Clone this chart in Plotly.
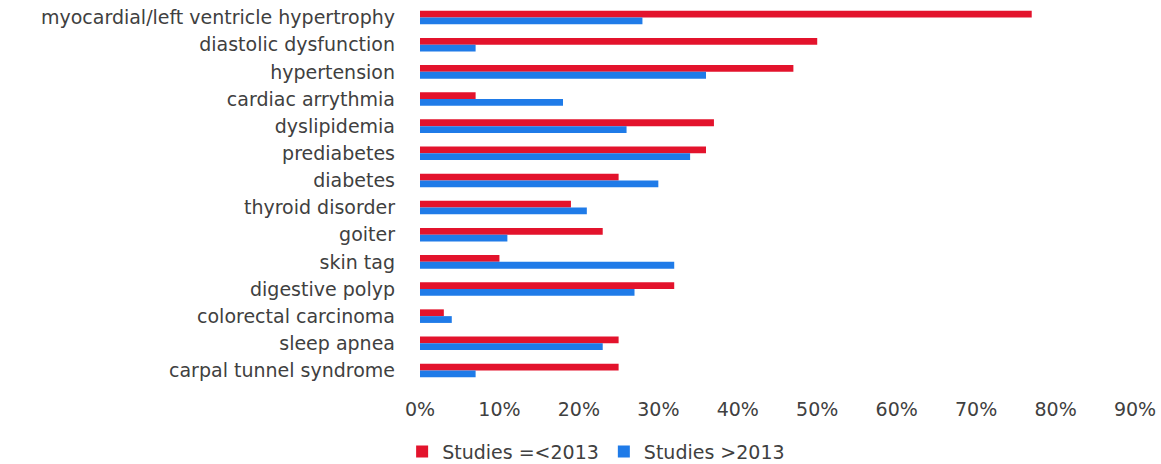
import plotly.graph_objects as go

# Comorbidities, listed top to bottom
conditions = [
    "myocardial/left ventricle hypertrophy",
    "diastolic dysfunction",
    "hypertension",
    "cardiac arrythmia",
    "dyslipidemia",
    "prediabetes",
    "diabetes",
    "thyroid disorder",
    "goiter",
    "skin tag",
    "digestive polyp",
    "colorectal carcinoma",
    "sleep apnea",
    "carpal tunnel syndrome",
]

# Prevalence (%) by study period
studies_to_2013 = [77, 50, 47, 7, 37, 36, 25, 19, 23, 10, 32, 3, 25, 25]
studies_after_2013 = [28, 7, 36, 18, 26, 34, 30, 21, 11, 32, 27, 4, 23, 7]

x_tick_values = [0, 10, 20, 30, 40, 50, 60, 70, 80, 90]
x_tick_labels = ["0%", "10%", "20%", "30%", "40%", "50%", "60%", "70%", "80%", "90%"]

RED = "#E3132C"
BLUE = "#1F7BE8"
TEXT = "#404040"
FONT = "DejaVu Sans"

fig = go.Figure()
fig.add_trace(go.Bar(
    y=conditions, x=studies_to_2013, orientation="h",
    name="Studies =<2013", marker=dict(color=RED, line=dict(width=0)),
))
fig.add_trace(go.Bar(
    y=conditions, x=studies_after_2013, orientation="h",
    name="Studies >2013", marker=dict(color=BLUE, line=dict(width=0)),
))

fig.update_layout(
    width=1161, height=464,
    margin=dict(l=420, r=26, t=4, b=80, pad=0, autoexpand=False),
    paper_bgcolor="white", plot_bgcolor="white",
    barmode="group", bargap=0.5, bargroupgap=0,
    font=dict(family=FONT, size=19, color=TEXT),
    showlegend=True,
    legend=dict(
        orientation="h", x=-0.025, xanchor="left", y=-0.128, yanchor="top",
        font=dict(family=FONT, size=19, color=TEXT),
        itemwidth=30, traceorder="normal",
    ),
)
fig.update_xaxes(
    range=[0, 90], tickvals=x_tick_values, ticktext=x_tick_labels,
    showgrid=False, zeroline=False, showline=False,
    ticklabelstandoff=12, fixedrange=True, automargin=False,
)
fig.update_yaxes(
    autorange="reversed", showgrid=False, zeroline=False, showline=False,
    ticklabelstandoff=24, fixedrange=True, automargin=False,
)

fig.write_html("out.html")
